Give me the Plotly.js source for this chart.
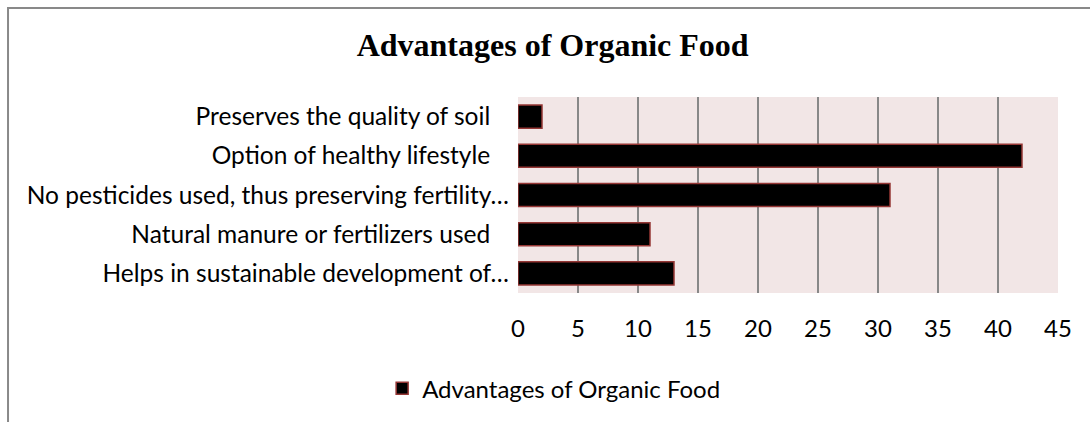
<!DOCTYPE html>
<html>
<head>
<meta charset="utf-8">
<script src="https://cdn.plot.ly/plotly-3.0.1.min.js"></script>
<style>html,body{margin:0;padding:0;background:#fff;}#chart{width:1090px;height:422px;}</style>
</head>
<body>
<div id="chart"></div>
<script>
const categories = [
  "Preserves the quality of soil\u00a0\u00a0\u00a0",
  "Option of healthy lifestyle\u00a0\u00a0\u00a0",
  "No pesticides used, thus preserving fertility…",
  "Natural manure or fertilizers used\u00a0\u00a0\u00a0",
  "Helps in sustainable development of…"
];
const values = [2, 42, 31, 11, 13];
const xTicks = [0, 5, 10, 15, 20, 25, 30, 35, 40, 45];
const seriesName = "Advantages of Organic Food";
const chartTitle = "Advantages of Organic Food";

const trace = {
  type: 'bar',
  orientation: 'h',
  y: categories,
  x: values,
  name: seriesName,
  marker: {color: '#000000', line: {color: '#953735', width: 1.5}},
  showlegend: true,
  hoverinfo: 'x+y'
};

const layout = {
  width: 1090, height: 422,
  margin: {l: 518, r: 32, t: 97, b: 128, pad: 0},
  paper_bgcolor: '#ffffff',
  plot_bgcolor: '#f2e6e6',
  bargap: 0.41,
  title: {text: '<b>' + chartTitle + '</b>', font: {family: 'Liberation Serif', size: 32, color: '#000'}, x: 0.507, xanchor: 'center', y: 0.893, yanchor: 'middle'},
  font: {family: 'Lato', size: 24, color: '#000'},
  xaxis: {
    range: [0, 45], tickvals: xTicks, ticktext: xTicks.map(String),
    showgrid: true, gridcolor: '#888888', gridwidth: 1.5,
    zeroline: false, showline: false, ticks: '', ticklabelstandoff: 19,
    tickfont: {family: 'Lato', size: 24, color: '#000'}, fixedrange: true
  },
  yaxis: {
    type: 'category', autorange: 'reversed', showgrid: false, zeroline: false,
    showline: false, ticks: '', ticklabelstandoff: 8,
    tickfont: {family: 'Lato', size: 24.5, color: '#000'}, fixedrange: true
  },
  legend: {orientation: 'h', x: 0.066, xanchor: 'center', y: -0.48, yanchor: 'middle',
    font: {family: 'Lato', size: 24, color: '#000'}, itemwidth: 30},
  shapes: [{type: 'rect', xref: 'paper', yref: 'paper', x0: -0.9444, x1: 1.2, y0: -0.8, y1: 1.4543,
    line: {color: '#898989', width: 2}, fillcolor: 'rgba(0,0,0,0)', layer: 'below'}]
};

Plotly.newPlot('chart', [trace], layout, {displayModeBar: false, staticPlot: true});
</script>
</body>
</html>
